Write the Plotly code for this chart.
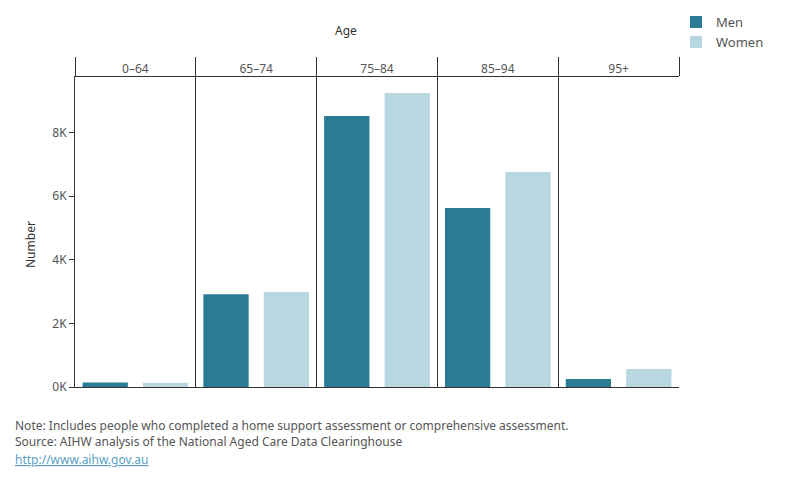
import plotly.graph_objects as go

age_groups = ["0–64", "65–74", "75–84", "85–94", "95+"]
men = [140, 2920, 8520, 5630, 250]
women = [130, 2990, 9250, 6760, 570]
y_tickvals = [0, 2000, 4000, 6000, 8000]
y_ticktext = ["0K", "2K", "4K", "6K", "8K"]

FONT = "Noto Sans"
MEN_C = "#2a7c96"
WOMEN_C = "#b8d7e0"
LINE_C = "#333333"

# page body has an 8px margin; plot area target (screen px): x 75..679, y 77..387
PX0, PY0, PW, PH = 75, 77, 604, 310


def px(x):
    return (x - PX0) / PW


def py(y):
    return (PY0 + PH - y) / PH


fig = go.Figure()
fig.add_trace(go.Bar(x=age_groups, y=men, name="Men", marker_color=MEN_C, marker_line_width=0))
fig.add_trace(go.Bar(x=age_groups, y=women, name="Women", marker_color=WOMEN_C, marker_line_width=0))

fig.update_layout(
    width=784, height=484,
    margin=dict(l=PX0 - 8, r=784 - (PX0 - 8) - PW, t=PY0 - 8, b=484 - (PY0 - 8) - PH, autoexpand=False),
    paper_bgcolor="white", plot_bgcolor="white",
    font=dict(family=FONT, size=12, color="#555555"),
    barmode="group", bargap=0.0, bargroupgap=0.25,
    showlegend=True,
    legend=dict(x=px(676), y=py(7), xanchor="left", yanchor="top",
                font=dict(size=13, color="#555555"), itemwidth=30,
                tracegroupgap=0, bgcolor="rgba(0,0,0,0)"),
    xaxis=dict(
        type="category", side="top", tickson="boundaries",
        ticks="outside", ticklen=19, tickwidth=1, tickcolor=LINE_C,
        showgrid=True, gridcolor=LINE_C, gridwidth=1,
        showline=True, linecolor=LINE_C, linewidth=1, mirror=True,
        ticklabelstandoff=-2,
        tickfont=dict(size=12, color="#555555"),
        range=[-0.5, 4.5], fixedrange=True,
    ),
    yaxis=dict(
        range=[0, 9750], tickvals=y_tickvals, ticktext=y_ticktext,
        ticks="outside", ticklen=5, tickcolor=LINE_C,
        showgrid=False, zeroline=False,
        showline=True, linecolor=LINE_C, linewidth=1,
        tickfont=dict(size=12, color="#555555"),
    ),
    annotations=[
        dict(text="Age", x=px(346), y=py(31), xref="paper", yref="paper",
             xanchor="center", yanchor="middle",
             showarrow=False, font=dict(size=12, color="#333333")),
        dict(text="Number", x=px(30), y=py(245), xref="paper", yref="paper",
             xanchor="center", yanchor="middle",
             showarrow=False, textangle=-90, font=dict(size=12, color="#333333")),
        dict(text="Note: Includes people who completed a home support assessment or comprehensive assessment.",
             x=px(13), y=py(425), xref="paper", yref="paper", xanchor="left", yanchor="middle",
             showarrow=False, font=dict(size=12, color="#555555")),
        dict(text="Source: AIHW analysis of the National Aged Care Data Clearinghouse",
             x=px(13), y=py(441), xref="paper", yref="paper", xanchor="left", yanchor="middle",
             showarrow=False, font=dict(size=12, color="#555555")),
        dict(text="<u>http://www.aihw.gov.au</u>",
             x=px(13), y=py(460), xref="paper", yref="paper", xanchor="left", yanchor="middle",
             showarrow=False, font=dict(size=12, color="#5b9fc4")),
    ],
)

fig.write_html("out.html")
